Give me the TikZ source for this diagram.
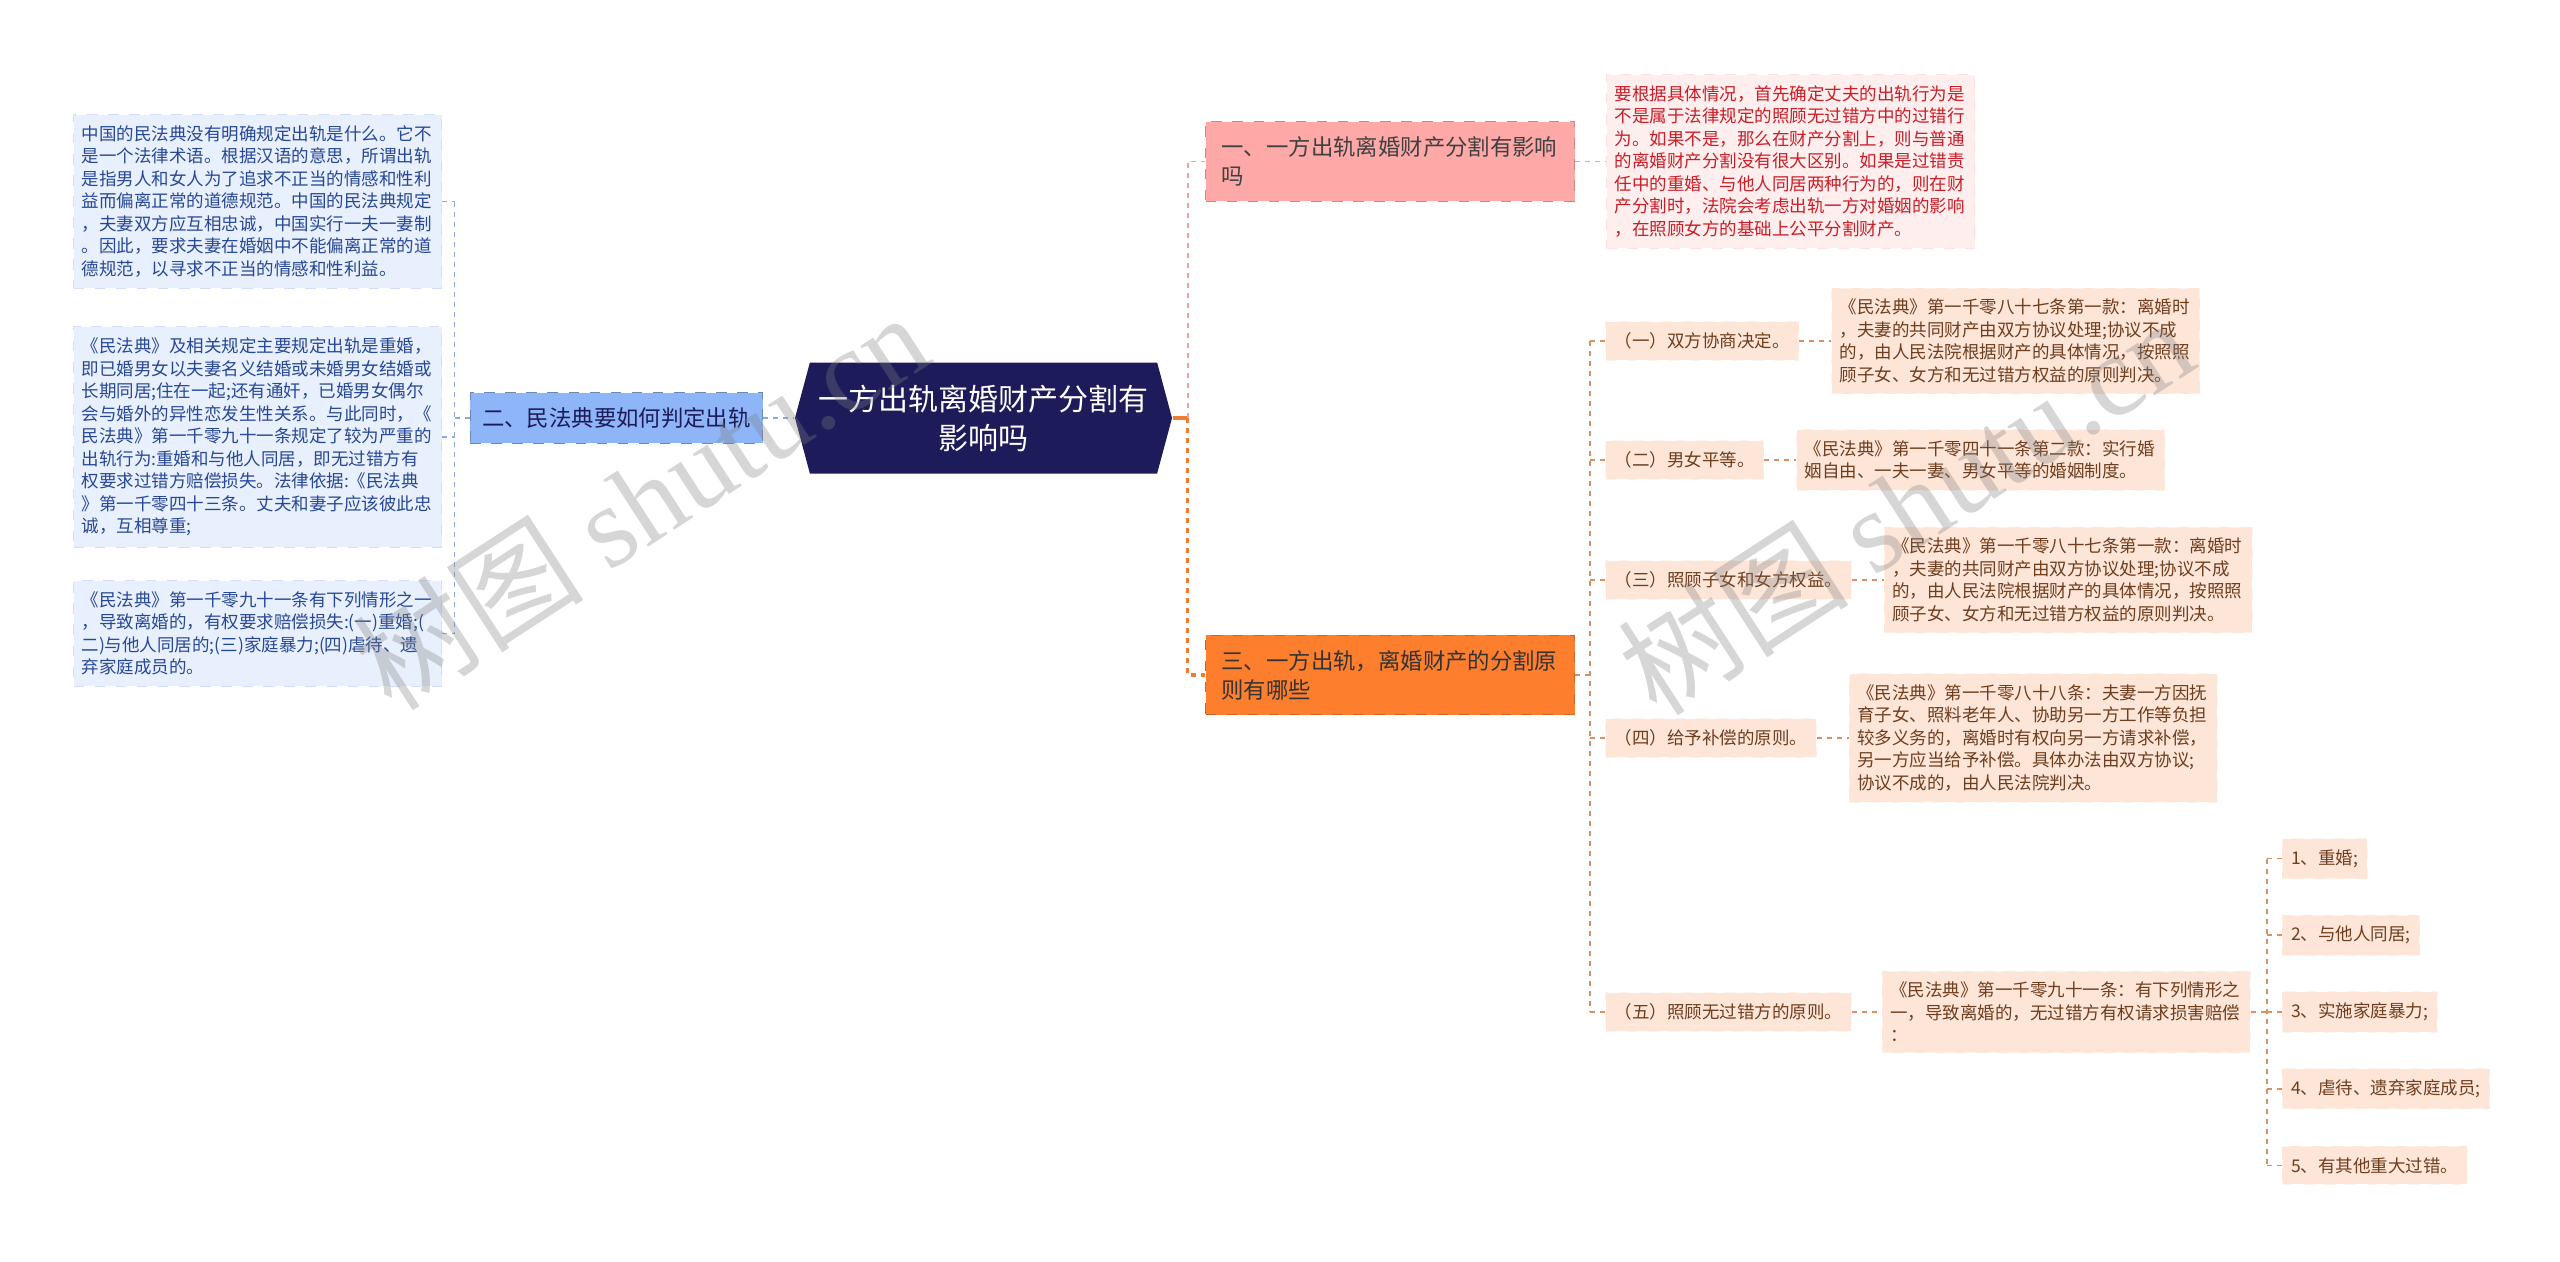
\documentclass[tikz,border=0pt]{standalone}
\usepackage{fontspec}
\setmainfont{Noto Sans CJK SC}
\newfontfamily\wmlatin{Liberation Serif}
\usetikzlibrary{positioning,shapes.symbols}

\definecolor{rootc}{RGB}{29,27,89}
\definecolor{lbr}{RGB}{141,181,247}
\definecolor{lboxc}{RGB}{232,240,253}
\definecolor{ltxt}{RGB}{40,72,150}
\definecolor{pkbr}{RGB}{254,168,168}
\definecolor{pkboxc}{RGB}{255,238,238}
\definecolor{pktxt}{RGB}{200,30,40}
\definecolor{orbr}{RGB}{253,127,46}
\definecolor{pcboxc}{RGB}{253,229,216}
\definecolor{pctxt}{RGB}{110,62,30}
\definecolor{blnc}{RGB}{140,170,215}
\definecolor{pklnc}{RGB}{238,160,160}
\definecolor{orlnc}{RGB}{236,125,50}
\definecolor{brlnc}{RGB}{215,145,100}

\begin{document}
\begin{tikzpicture}[
  root/.style={signal,signal to=west and east,signal pointer angle=150,
               fill=rootc,text=white,minimum width=3.77cm,minimum height=1.11cm,
               inner sep=0pt,align=center,font=\fontsize{8.54}{11.1}\selectfont},
  branch/.style={draw,dashed,line width=0.3pt,align=left,inner xsep=0.16cm,
                 inner ysep=0.15cm,font=\fontsize{6.37}{8.25}\selectfont},
  lbranch/.style={branch,fill=lbr,draw=lbr!75!black,text=rootc,inner xsep=0.12cm},
  pkbranch/.style={branch,fill=pkbr,draw=pkbr!80!black,text=black!75,text width=3.37cm},
  orbranch/.style={branch,fill=orbr,draw=orbr!80!black,text=black!80,text width=3.37cm},
  textbox/.style={draw,dashed,line width=0.3pt,align=left,text width=3.52cm,
                  inner xsep=0.08cm,inner ysep=0.11cm,font=\fontsize{4.98}{6.4}\selectfont},
  lbox/.style={textbox,fill=lboxc,draw=lboxc!92!blue,text=ltxt},
  pkbox/.style={textbox,fill=pkboxc,draw=pkboxc!94!red,text=pktxt},
  pcbox/.style={textbox,fill=pcboxc,draw=white!50!pcboxc,text=pctxt},
  kid/.style={fill=pcboxc,draw=white!50!pcboxc,dashed,line width=0.3pt,text=pctxt,
              inner xsep=0.09cm,inner ysep=0.11cm,font=\fontsize{4.98}{6.4}\selectfont},
  link/.style={dash pattern=on 0.05cm off 0.05cm,line width=0.5pt},
  bln/.style={link,draw=blnc},
  pkln/.style={link,draw=pklnc},
  orln/.style={link,draw=orlnc,line width=0.9pt},
  brln/.style={link,draw=brlnc},
  wm/.style={text=gray,opacity=0.32,font=\fontsize{33}{33}\selectfont}
]
\useasboundingbox[fill=white] (0,0) rectangle (25.6,-12.61);

% centre and left side
\node[root] (root) at (9.835,-4.18) {一方出轨离婚财产分割有\\影响吗};
\node[lbranch,left=0.31cm of root] (lnode) {二、民法典要如何判定出轨};
\node[lbox,anchor=west] (l1) at (0.73,-2.015) {中国的民法典没有明确规定出轨是什么。它不\\是一个法律术语。根据汉语的意思，所谓出轨\\是指男人和女人为了追求不正当的情感和性利\\益而偏离正常的道德规范。中国的民法典规定\\，夫妻双方应互相忠诚，中国实行一夫一妻制\\。因此，要求夫妻在婚姻中不能偏离正常的道\\德规范，以寻求不正当的情感和性利益。};
\node[lbox,anchor=west] (l2) at (0.73,-4.37) {《民法典》及相关规定主要规定出轨是重婚，\\即已婚男女以夫妻名义结婚或未婚男女结婚或\\长期同居;住在一起;还有通奸，已婚男女偶尔\\会与婚外的异性恋发生性关系。与此同时，《\\民法典》第一千零九十一条规定了较为严重的\\出轨行为:重婚和与他人同居，即无过错方有\\权要求过错方赔偿损失。法律依据:《民法典\\》第一千零四十三条。丈夫和妻子应该彼此忠\\诚，互相尊重;};
\node[lbox,anchor=west] (l3) at (0.73,-6.335) {《民法典》第一千零九十一条有下列情形之一\\，导致离婚的，有权要求赔偿损失:(一)重婚;(\\二)与他人同居的;(三)家庭暴力;(四)虐待、遗\\弃家庭成员的。};

% right side
\node[pkbranch,anchor=west] (r1) at (12.05,-1.615) {一、一方出轨离婚财产分割有影响\\吗};
\node[pkbox,right=0.31cm of r1] (r1d) {要根据具体情况，首先确定丈夫的出轨行为是\\不是属于法律规定的照顾无过错方中的过错行\\为。如果不是，那么在财产分割上，则与普通\\的离婚财产分割没有很大区别。如果是过错责\\任中的重婚、与他人同居两种行为的，则在财\\产分割时，法院会考虑出轨一方对婚姻的影响\\，在照顾女方的基础上公平分割财产。};
\node[orbranch,anchor=west] (r3) at (12.05,-6.75) {三、一方出轨，离婚财产的分割原\\则有哪些};

\node[kid,anchor=west] (c1) at (16.05,-3.41) {（一）双方协商决定。};
\node[kid,anchor=west] (c2) at (16.05,-4.60) {（二）男女平等。};
\node[kid,anchor=west] (c3) at (16.05,-5.80) {（三）照顾子女和女方权益。};
\node[kid,anchor=west] (c4) at (16.05,-7.38) {（四）给予补偿的原则。};
\node[kid,anchor=west] (c5) at (16.05,-10.12) {（五）照顾无过错方的原则。};

\node[pcbox,right=0.32cm of c1] (d1) {《民法典》第一千零八十七条第一款：离婚时\\，夫妻的共同财产由双方协议处理;协议不成\\的，由人民法院根据财产的具体情况，按照照\\顾子女、女方和无过错方权益的原则判决。};
\node[pcbox,right=0.32cm of c2] (d2) {《民法典》第一千零四十一条第二款：实行婚\\姻自由、一夫一妻、男女平等的婚姻制度。};
\node[pcbox,right=0.32cm of c3] (d3) {《民法典》第一千零八十七条第一款：离婚时\\，夫妻的共同财产由双方协议处理;协议不成\\的，由人民法院根据财产的具体情况，按照照\\顾子女、女方和无过错方权益的原则判决。};
\node[pcbox,right=0.32cm of c4] (d4) {《民法典》第一千零八十八条：夫妻一方因抚\\育子女、照料老年人、协助另一方工作等负担\\较多义务的，离婚时有权向另一方请求补偿，\\另一方应当给予补偿。具体办法由双方协议;\\协议不成的，由人民法院判决。};
\node[pcbox,right=0.30cm of c5] (d5) {《民法典》第一千零九十一条：有下列情形之\\一，导致离婚的，无过错方有权请求损害赔偿\\：};

\node[kid,right=0.31cm of d5] (e3) {3、实施家庭暴力;};
\node[kid,anchor=west] (e2) at ([yshift=0.767cm]e3.west) {2、与他人同居;};
\node[kid,anchor=west] (e1) at ([yshift=1.534cm]e3.west) {1、重婚;};
\node[kid,anchor=west] (e4) at ([yshift=-0.767cm]e3.west) {4、虐待、遗弃家庭成员;};
\node[kid,anchor=west] (e5) at ([yshift=-1.534cm]e3.west) {5、有其他重大过错。};

% connectors
\draw[bln] (lnode.east) -- (root.west);
\path (lnode.west) ++(-0.15,0) coordinate (lj);
\draw[bln] (lnode.west) -- (lj);
\draw[bln] (lj |- l1.east) -- (lj |- l3.east);
\foreach \n in {l1,l2,l3}
  \draw[bln] (\n.east) -- (lj |- \n.east);

\path (root.east) ++(0.15,0) coordinate (rj);
\draw[orln,solid] (root.east) -- (rj);
\draw[pkln] (rj) |- (r1.west);
\draw[orln] (rj) |- (r3.west);
\draw[pkln] (r1.east) -- (r1d.west);

\path (r3.east) ++(0.15,0) coordinate (cj);
\draw[brln] (r3.east) -- (cj);
\draw[brln] (cj |- c1.west) -- (cj |- c5.west);
\foreach \n in {c1,c2,c3,c4,c5}
  \draw[brln] (cj |- \n.west) -- (\n.west);
\foreach \a/\b in {c1/d1,c2/d2,c3/d3,c4/d4,c5/d5}
  \draw[brln] (\a.east) -- (\b.west);

\path (d5.east) ++(0.16,0) coordinate (ej);
\draw[brln] (ej |- e1.west) -- (ej |- e5.west);
\draw[brln] (d5.east) -- (ej);
\foreach \n in {e1,e2,e3,e4,e5}
  \draw[brln] (ej |- \n.west) -- (\n.west);

% watermarks
\node[wm,rotate=33] (wm1) at (6.4,-5.0) {树图 {\wmlatin shutu.cn}};
\node[wm,rotate=33] (wm2) at (19.05,-5.05) {树图 {\wmlatin shutu.cn}};
\end{tikzpicture}
\end{document}
